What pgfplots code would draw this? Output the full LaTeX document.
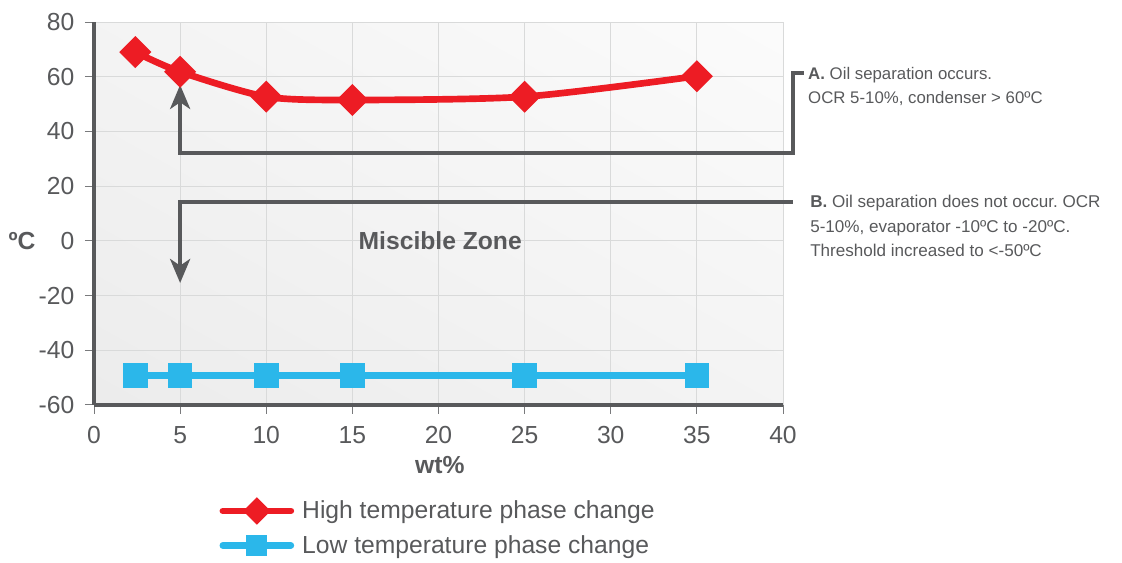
\documentclass[border=0pt]{standalone}
\usepackage{pgfplots}
\pgfplotsset{compat=1.18}
\usepackage{fontspec}
\setmainfont{Liberation Sans}
\usetikzlibrary{arrows.meta,shadings}
\definecolor{dgray}{HTML}{58595B}
\definecolor{cred}{HTML}{ED1C24}
\definecolor{cblue}{HTML}{2BB7EA}
\definecolor{gridc}{HTML}{D9DADA}
\frenchspacing
\begin{document}
\begin{tikzpicture}
\path[use as bounding box] (0,0) rectangle (841.5pt,422.25pt);
\begin{axis}[
  at={(70.5pt,118.5pt)}, anchor=south west,
  scale only axis, width=516.75pt, height=287.25pt,
  xmin=0, xmax=40, ymin=-60, ymax=80,
  xtick={0,5,...,40}, ytick={-60,-40,...,80},
  grid=major, grid style={gridc, line width=0.75pt},
  axis x line*=bottom, axis y line*=left,
  axis line style={-, dgray, line width=3pt},
  tick style={dgray!80, line width=0.75pt},
  tick align=outside, major tick length=6.75pt,
  ticklabel style={font=\fontsize{18.5}{20}\selectfont, text=dgray},
  xticklabel style={yshift=-6pt},
  yticklabel style={xshift=-4.5pt},
  /pgf/number format/assume math mode=true,
  xlabel={\textbf{wt\%}}, ylabel={\textbf{ºC}},
  every axis x label/.style={at={(axis description cs:0.502,-0.157)}, anchor=center, font=\fontsize{18.5}{20}\selectfont, text=dgray},
  every axis y label/.style={at={(axis description cs:-0.1045,0.4286)}, anchor=center, font=\fontsize{18.5}{20}\selectfont, text=dgray},
  clip=false,
  axis background/.style={lower left=black!7.5, upper right=black!1.5, upper left=black!4.5, lower right=black!4.5},
  legend style={at={(axis description cs:0.176,-0.236)}, anchor=north west, draw=none, fill=none,
    font=\fontsize{18.5}{20}\selectfont, text=dgray, row sep=7pt},
  legend cell align=left,
  legend image code/.code={\draw[mark repeat=2, mark phase=2, #1, every mark/.append style={scale=0.8}] plot coordinates {(0pt,0pt) (25.5pt,0pt) (51pt,0pt)}; \path (55pt,0pt);},
]
\addplot[cred, line width=5pt, smooth, tension=0.45, line cap=round,
  mark=square*, mark size=6pt, mark options={rotate=45, draw=none, fill=cred}]
  coordinates {(2.4,69) (5,61.8) (10,52.7) (15,51.5) (25,52.7) (35,60.2)};
\addlegendentry{High temperature phase change}
\addplot[cblue, line width=5pt, line cap=round,
  mark=square*, mark size=6.75pt, mark options={draw=none, fill=cblue}]
  coordinates {(2.4,-49.2) (5,-49.2) (10,-49.2) (15,-49.2) (25,-49.2) (35,-49.2)};
\addlegendentry{Low temperature phase change}
\draw[dgray, line width=3pt, -{Stealth[length=18pt, width=15pt, inset=5pt]}]
  (axis cs:41.2,61.4) -- (axis cs:40.58,61.4) -- (axis cs:40.58,32.1) -- (axis cs:5,32.1) -- (axis cs:5,57);
\draw[dgray, line width=3pt, -{Stealth[length=18pt, width=15pt, inset=5pt]}]
  (axis cs:40.58,14.3) -- (axis cs:5,14.3) -- (axis cs:5,-15.4);
\node[font=\bfseries\fontsize{18.5}{20}\selectfont, text=dgray] at (axis cs:20.1,0) {Miscible Zone};
\node[anchor=west, align=left, inner sep=0pt, font=\fontsize{12.6}{18}\selectfont, text=dgray] at (axis cs:41.45,56.4)
  {\textbf{A.} Oil separation occurs.\\OCR 5-10\%, condenser > 60ºC};
\node[anchor=west, align=left, inner sep=0pt, font=\fontsize{12.8}{18.5}\selectfont, text=dgray] at (axis cs:41.57,5.4)
  {\textbf{B.} Oil separation does not occur. OCR\\5-10\%, evaporator -10ºC to -20ºC.\\Threshold increased to <-50ºC};
\end{axis}
\end{tikzpicture}
\end{document}
